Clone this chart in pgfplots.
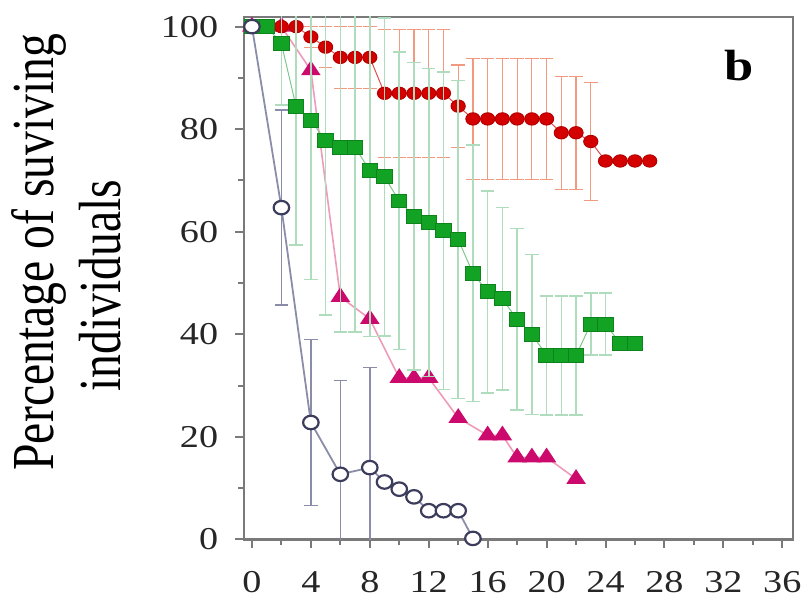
\documentclass[border=0pt]{standalone}
\usepackage{fontspec}
\setmainfont{Liberation Serif}[FakeStretch=1.2]
\newfontfamily\labelfont{Liberation Serif}
\usepackage{graphicx}
\usepackage{pgfplots}
\pgfplotsset{compat=1.18}

\definecolor{redmk}{HTML}{D40000}
\definecolor{rederr}{HTML}{F29A80}
\definecolor{grnmk}{HTML}{12A324}
\definecolor{grnln}{HTML}{7CC88C}
\definecolor{grnerr}{HTML}{AEDCBC}
\definecolor{magmk}{HTML}{CC0A6E}
\definecolor{magln}{HTML}{EE9AB8}
\definecolor{navmk}{HTML}{3C3C5C}
\definecolor{navln}{HTML}{8A8CA8}
\definecolor{axgray}{HTML}{7A7A7A}

\begin{document}
\begin{tikzpicture}
\begin{axis}[
  scale only axis,
  width=276.5pt, height=263pt,
  xmin=-0.54, xmax=36.75,
  ymin=0, ymax=101.9,
  xtick={0,4,...,36},
  ytick={0,20,...,100},
  minor x tick num=1,
  minor y tick num=1,
  tick align=outside,
  tick pos=left,
  major tick length=4.5pt,
  minor tick length=3pt,
  tick style={axgray, line width=1pt},
  axis line style={axgray, line width=1.1pt},
  clip mode=individual,
  /pgf/number format/assume math mode=true,
  tick label style={font=\fontsize{16}{16}\selectfont, black!85},
  yticklabel style={xshift=-5pt},
  xticklabel style={yshift=-8pt},
  ylabel={\scalebox{1}[1.25]{\labelfont\fontsize{24}{27}\selectfont
    \begin{tabular}{@{}c@{}}Percentage of suviving\\\hspace*{-34pt}individuals\end{tabular}}},
  ylabel style={at={(axis description cs:-0.31,0.55)}, anchor=center},
]
% magenta triangles, drawn first
\addplot[color=magln, line width=0.8pt,
  mark=triangle*, mark size=4.2pt,
  mark options={draw=magmk, fill=magmk, xscale=1.15, solid}]
  table[x=x, y=y] {
x y
0 100
2 100
4 91.5
6 47.3
8 43
10 31.5
11 31.5
12 31.5
14 23.7
16 20.3
17 20.3
18 16
19 16
20 16
22 11.8
};

% red circles with error bars
\addplot[color=redmk!70, line width=0.5pt,
  mark=*, mark size=3.1pt,
  mark options={draw=redmk!85!black, fill=redmk, xscale=1.15, solid},
  error bars/.cd, y dir=both, y explicit,
  error bar style={rederr, line width=0.6pt},
  error mark options={rotate=90, rederr, mark size=3.4pt, line width=0.6pt}]
  table[x=x, y=y, y error=e] {
x y e
0 100 0
1 100 0
2 100 0
3 100 0
4 98 2
5 96 4
6 94 6
7 94 6
8 94 6
9 87 12.5
10 87 12.5
11 87 12.5
12 87 12.5
13 87 12.5
14 84.5 8
15 82 11.8
16 82 11.8
17 82 11.8
18 82 11.8
19 82 11.8
20 82 11.8
21 79.3 11
22 79.3 11
23 77.6 11.5
24 73.8 0
25 73.8 0
26 73.8 0
27 73.8 0
};

% green squares with error bars
\addplot[color=grnln, line width=0.5pt,
  mark=square*, mark size=3.5pt,
  mark options={draw=grnmk!80!black, fill=grnmk, xscale=1.1, solid},
  error bars/.cd, y dir=both, y explicit,
  error bar style={grnerr, line width=0.8pt},
  error mark options={rotate=90, grnerr, mark size=3.4pt, line width=0.8pt}]
  table[x=x, y=y, y error=e] {
x y e
0 100 0
1 100 0
2 96.7 12
3 84.4 27
4 81.7 31
5 77.8 34
6 76.4 36
7 76.4 36
8 72 32.4
9 70.7 31
10 66 29
11 63 30
12 61.8 30
13 60.2 31
14 58.5 31
15 51.9 25
16 48.3 19.7
17 46.9 17.8
18 42.9 17.7
19 40 15.6
20 35.9 11.6
21 35.9 11.6
22 35.9 11.6
23 42 6
24 42 6
25 38.2 0
26 38.2 0
};

% open circles with error bars
\addplot[color=navln, line width=0.9pt,
  mark=*, mark size=3.4pt,
  mark options={draw=navmk, fill=white, line width=1.1pt, xscale=1.15, solid},
  error bars/.cd, y dir=both, y explicit,
  error bar style={navln, line width=0.8pt},
  error mark options={rotate=90, navln, mark size=3.4pt, line width=0.8pt}]
  table[x=x, y=y, y error=e] {
x y e
0 100 0
2 64.7 19
4 22.8 16.2
6 12.7 18.3
8 14 19.5
9 11.2 0
10 9.8 0
11 8.3 0
12 5.6 0
13 5.6 0
14 5.6 0
15 0.2 0
};

\node[font=\fontsize{22}{22}\selectfont\bfseries] at (axis cs:33.1,92.5) {b};
\end{axis}
\path ([xshift=5pt,yshift=8.5pt]current axis.north east)
      ([xshift=-122.5pt,yshift=-27.5pt]current axis.south west);
\end{tikzpicture}
\end{document}
